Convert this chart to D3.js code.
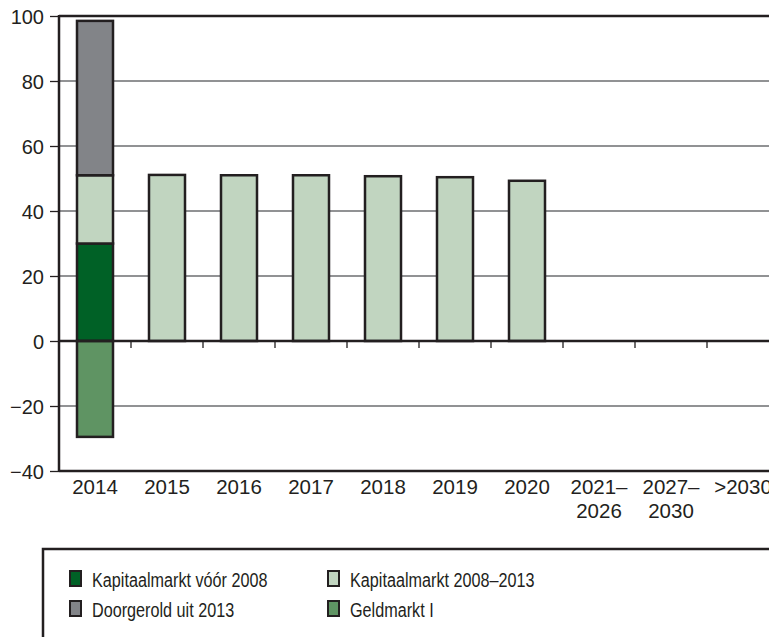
<!DOCTYPE html>
<html><head><meta charset="utf-8">
<script src="https://cdn.jsdelivr.net/npm/d3@7"></script>
<style>body{margin:0;background:#fff}svg{display:block}text{font-family:"Liberation Sans",Arial,sans-serif;fill:#231f20}</style>
</head><body><svg id="c" width="769" height="637"></svg>
<script>
const categories = [["2014"],["2015"],["2016"],["2017"],["2018"],["2019"],["2020"],["2021–","2026"],["2027–","2030"],[">2030"]];
const seriesNames = ["Kapitaalmarkt vóór 2008","Kapitaalmarkt 2008–2013","Doorgerold uit 2013","Geldmarkt I"];
const kapVoor2008 = [30,0,0,0,0,0,0,0,0,0];
const kap2008_2013 = [21,51.1,51,51,50.7,50.4,49.3,0,0,0];
const doorgerold = [47.5,0,0,0,0,0,0,0,0,0];
const geldmarkt = [-29.5,0,0,0,0,0,0,0,0,0];
const yTicks = [-40,-20,0,20,40,60,80,100];
const colors = ["#006126","#c1d5c0","#828488","#5f9463"];

const svg = d3.select("#c");
const x = d3.scaleBand().domain(d3.range(categories.length)).range([59,779]).paddingInner(0.5).paddingOuter(0.25);
const y = d3.scaleLinear().domain([-40,100]).range([471,16]);
const X0 = 59, X1 = 779;
const axisCol = "#231f20";

// gridlines
svg.append("g").selectAll("line").data(yTicks.filter(v=>v!==0&&v!==100&&v!==-40)).join("line")
  .attr("x1",X0).attr("x2",X1).attr("y1",d=>y(d)).attr("y2",d=>y(d))
  .attr("stroke","#6d6e70").attr("stroke-width",1.3);

// stacked bars
const pos = [kapVoor2008,kap2008_2013,doorgerold];
const bars = svg.append("g");
categories.forEach((c,i)=>{
  let base = 0;
  pos.forEach((s,k)=>{
    const v = s[i];
    if (v>0){
      bars.append("rect").attr("x",x(i)).attr("width",x.bandwidth())
        .attr("y",y(base+v)).attr("height",y(base)-y(base+v))
        .attr("fill",colors[k]).attr("stroke",axisCol).attr("stroke-width",2.5);
      base += v;
    }
  });
  if (geldmarkt[i]<0){
    bars.append("rect").attr("x",x(i)).attr("width",x.bandwidth())
      .attr("y",y(0)).attr("height",y(geldmarkt[i])-y(0))
      .attr("fill",colors[3]).attr("stroke",axisCol).attr("stroke-width",2.5);
  }
});

// frame lines
[100,0,-40].forEach(v=>svg.append("line").attr("x1",X0).attr("x2",X1).attr("y1",y(v)).attr("y2",y(v)).attr("stroke",axisCol).attr("stroke-width",2.5));
svg.append("line").attr("x1",X0).attr("x2",X0).attr("y1",y(100)-1).attr("y2",y(-40)+1).attr("stroke",axisCol).attr("stroke-width",2.5);

// y axis
const ya = svg.append("g").attr("transform",`translate(${X0},0)`)
  .call(d3.axisLeft(y).tickValues(yTicks).tickSize(9).tickPadding(6).tickFormat(d=>d<0?"\u2212"+Math.abs(d):d));
ya.select(".domain").remove();
ya.selectAll(".tick line").attr("stroke",axisCol).attr("stroke-width",1.3);
ya.selectAll(".tick text").attr("font-size",20).attr("font-family","Liberation Sans, Arial, sans-serif").attr("fill",axisCol).attr("dy","0.36em");

// x ticks at band boundaries
const step = x.step();
svg.append("g").selectAll("line").data(d3.range(1,categories.length)).join("line")
  .attr("x1",d=>X0+d*step).attr("x2",d=>X0+d*step).attr("y1",y(0)).attr("y2",y(0)+7)
  .attr("stroke",axisCol).attr("stroke-width",1.3);

// x labels
const xl = svg.append("g");
categories.forEach((lines,i)=>{
  const cx = x(i)+x.bandwidth()/2;
  const t = xl.append("text").attr("x",cx).attr("y",494).attr("text-anchor","middle").attr("font-size",20.5);
  lines.forEach((l,j)=>t.append("tspan").attr("x",cx).attr("dy",j?24:0).text(l));
});

// legend
svg.append("rect").attr("x",43).attr("y",549).attr("width",800).attr("height",120)
  .attr("fill","none").attr("stroke",axisCol).attr("stroke-width",2.5);
const legPos = [[69,587],[327,587],[69,617],[327,617]];
seriesNames.forEach((n,k)=>{
  const [lx,ly] = legPos[k];
  svg.append("rect").attr("x",lx+1).attr("y",ly-16).attr("width",11).attr("height",15)
    .attr("fill",colors[k]).attr("stroke",axisCol).attr("stroke-width",2);
  svg.append("text").attr("transform",`translate(${lx+23},${ly}) scale(0.81,1)`).attr("font-size",20).text(n);
});
</script></body></html>
